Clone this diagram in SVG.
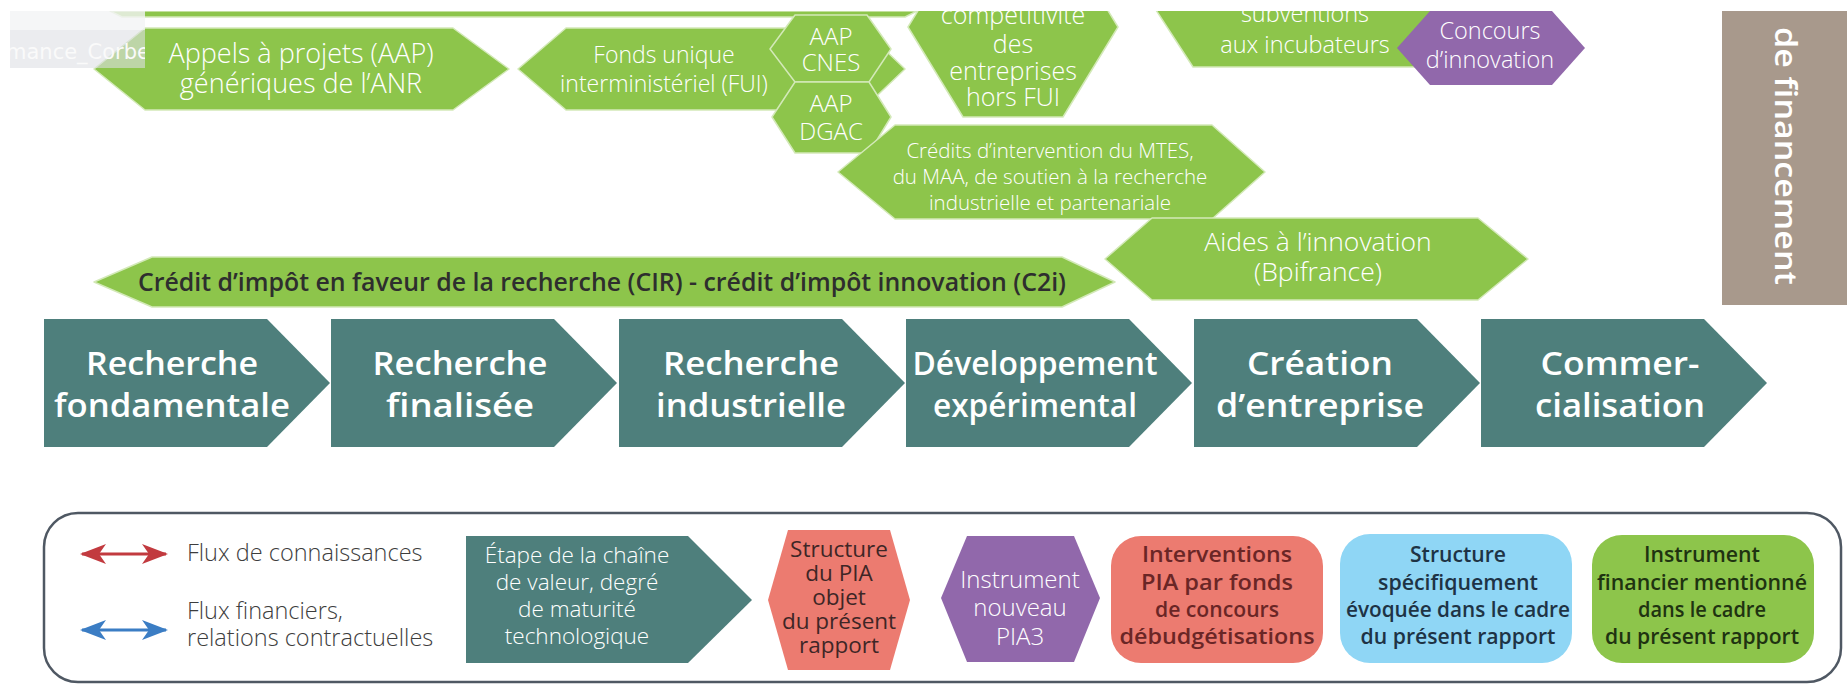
<svg xmlns="http://www.w3.org/2000/svg" width="1847" height="685" viewBox="0 0 1847 685">
<defs>
<style>
.g{fill:#8dc54b;stroke:#d3e9b8;stroke-width:1.5;stroke-linejoin:round}
.ch{fill:#4e7f7c}
.t{font-family:'Open Sans','DejaVu Sans',sans-serif;text-anchor:middle}
.tw{fill:#ffffff;font-weight:300}
.tc{font-size:33px;font-weight:600;fill:#ffffff}
.lg{font-family:'Open Sans','DejaVu Sans',sans-serif;font-size:23.5px;font-weight:300;fill:#3d3d3d}
.ld{font-size:22px;font-weight:600}
.sp{font-size:22.5px;font-weight:400;fill:#3e2626}
</style>
<clipPath id="top"><rect x="0" y="11" width="1847" height="674"/></clipPath>
<clipPath id="ovc"><rect x="10" y="11" width="135" height="57"/></clipPath>
<marker id="arR" viewBox="0 0 26 20" refX="24" refY="10" markerWidth="26" markerHeight="20" markerUnits="userSpaceOnUse" orient="auto-start-reverse">
<path d="M0,0 L26,10 L0,20 L7,10 Z" fill="#c23a3f"/>
</marker>
<marker id="arB" viewBox="0 0 26 20" refX="24" refY="10" markerWidth="26" markerHeight="20" markerUnits="userSpaceOnUse" orient="auto-start-reverse">
<path d="M0,0 L26,10 L0,20 L7,10 Z" fill="#3b7dc4"/>
</marker>
</defs>
<rect x="0" y="0" width="1847" height="685" fill="#ffffff"/>
<g clip-path="url(#top)">
<g id="top-bar"><polygon class="g" points="110,11 917,11 905,17 122,17"/></g>
<g id="aap-anr">
<polygon class="g" points="94,69 145,28 453,28 509,69 453,110 145,110"/>
<text class="t tw" font-size="27" x="301" y="63">Appels à projets (AAP)</text>
<text class="t tw" font-size="27" x="301" y="93">génériques de l’ANR</text>
</g>
<g id="fui">
<polygon class="g" points="518,69 566,28 862,28 905,69 862,110 566,110"/>
<text class="t tw" font-size="23" x="664" y="63">Fonds unique</text>
<text class="t tw" font-size="23" x="664" y="92">interministériel (FUI)</text>
</g>
<g id="aap-cnes">
<polygon class="g" points="770,49 795,15 867,15 891,49 869,82 795,82"/>
<text class="t tw" font-size="24" x="831" y="45">AAP</text>
<text class="t tw" font-size="24" x="831" y="71">CNES</text>
</g>
<g id="aap-dgac">
<polygon class="g" points="772,117 795,82 869,82 891,117 869,153 795,153"/>
<text class="t tw" font-size="24" x="831" y="112">AAP</text>
<text class="t tw" font-size="24" x="831" y="140">DGAC</text>
</g>
<g id="poles">
<polygon class="g" points="908,27 963,-63 1063,-63 1118,27 1063,117 963,117"/>
<text class="t tw" font-size="25" x="1013" y="24">compétitivité</text>
<text class="t tw" font-size="25" x="1013" y="53">des</text>
<text class="t tw" font-size="25" x="1013" y="80">entreprises</text>
<text class="t tw" font-size="25" x="1013" y="106">hors FUI</text>
</g>
<g id="credits">
<polygon class="g" points="838,172 895,125 1212,125 1265,172 1212,219 895,219"/>
<text class="t tw" font-size="20.5" x="1050" y="158">Crédits d’intervention du MTES,</text>
<text class="t tw" font-size="20.5" x="1050" y="184">du MAA, de soutien à la recherche</text>
<text class="t tw" font-size="20.5" x="1050" y="210">industrielle et partenariale</text>
</g>
<g id="subventions">
<polygon class="g" points="1143,-10 1193,67 1440,67 1480,-10"/>
<text class="t tw" font-size="23.5" x="1305" y="22">subventions</text>
<text class="t tw" font-size="23.5" x="1305" y="53">aux incubateurs</text>
</g>
<g id="concours">
<polygon points="1397,48 1430,11 1552,11 1585,48 1552,85 1430,85" fill="#9168ab"/>
<text class="t tw" font-size="23.5" x="1490" y="39">Concours</text>
<text class="t tw" font-size="23.5" x="1490" y="68">d’innovation</text>
</g>
<g id="aides">
<polygon class="g" points="1105,259 1152,218 1478,218 1528,259 1478,300 1152,300"/>
<text class="t tw" font-size="26.5" x="1318" y="251">Aides à l’innovation</text>
<text class="t tw" font-size="26.5" x="1318" y="281">(Bpifrance)</text>
</g>
<g id="cir">
<polygon class="g" points="94,282 152,257 1062,257 1115,282 1062,307 152,307"/>
<text class="t" font-size="25" font-weight="600" fill="#2e2e2e" x="602" y="291" textLength="928" lengthAdjust="spacingAndGlyphs">Crédit d’impôt en faveur de la recherche (CIR) - crédit d’impôt innovation (C2i)</text>
</g>
<g id="overlay">
<rect x="10" y="11" width="135" height="57" fill="#dde0e5" opacity="0.6"/>
<rect x="10" y="11" width="135" height="19" fill="#ffffff" opacity="0.5"/>
<text clip-path="url(#ovc)" x="6" y="59" font-family="'DejaVu Sans',sans-serif" font-size="21" fill="#fafafa">mance_Corbe</text>
</g>
<g id="modes-financement">
<rect x="1722" y="11" width="125" height="294" fill="#a8998c"/>
<text transform="rotate(90 1775 27)" x="1775" y="27" font-family="'Open Sans','DejaVu Sans',sans-serif" font-size="30" font-weight="600" fill="#ffffff" textLength="258" lengthAdjust="spacingAndGlyphs">de financement</text>
</g>
</g>
<g id="stage-1">
<polygon class="ch" points="44,319 267,319 330,383 267,447 44,447"/>
<text class="t tc" x="172" y="375" textLength="172" lengthAdjust="spacingAndGlyphs">Recherche</text>
<text class="t tc" x="172" y="417" textLength="236" lengthAdjust="spacingAndGlyphs">fondamentale</text>
</g>
<g id="stage-2">
<polygon class="ch" points="331,319 554,319 617,383 554,447 331,447"/>
<text class="t tc" x="460" y="375" textLength="175" lengthAdjust="spacingAndGlyphs">Recherche</text>
<text class="t tc" x="460" y="417" textLength="148" lengthAdjust="spacingAndGlyphs">finalisée</text>
</g>
<g id="stage-3">
<polygon class="ch" points="619,319 842,319 905,383 842,447 619,447"/>
<text class="t tc" x="751" y="375" textLength="176" lengthAdjust="spacingAndGlyphs">Recherche</text>
<text class="t tc" x="751" y="417" textLength="190" lengthAdjust="spacingAndGlyphs">industrielle</text>
</g>
<g id="stage-4">
<polygon class="ch" points="906,319 1129,319 1192,383 1129,447 906,447"/>
<text class="t tc" x="1035" y="375" textLength="245" lengthAdjust="spacingAndGlyphs">Développement</text>
<text class="t tc" x="1035" y="417" textLength="204" lengthAdjust="spacingAndGlyphs">expérimental</text>
</g>
<g id="stage-5">
<polygon class="ch" points="1194,319 1417,319 1480,383 1417,447 1194,447"/>
<text class="t tc" x="1320" y="375" textLength="146" lengthAdjust="spacingAndGlyphs">Création</text>
<text class="t tc" x="1320" y="417" textLength="208" lengthAdjust="spacingAndGlyphs">d’entreprise</text>
</g>
<g id="stage-6">
<polygon class="ch" points="1481,319 1704,319 1767,383 1704,447 1481,447"/>
<text class="t tc" x="1620" y="375" textLength="159" lengthAdjust="spacingAndGlyphs">Commer-</text>
<text class="t tc" x="1620" y="417" textLength="170" lengthAdjust="spacingAndGlyphs">cialisation</text>
</g>
<g id="legend">
<rect x="44" y="513" width="1797" height="169" rx="34" fill="#ffffff" stroke="#4f5863" stroke-width="2.5"/>
<text class="lg" x="187" y="561">Flux de connaissances</text>
<text class="lg" x="187" y="619">Flux financiers,</text>
<text class="lg" x="187" y="646">relations contractuelles</text>
</g>
<g id="connectors">
<line x1="82" y1="554" x2="166" y2="554" stroke="#c23a3f" stroke-width="3" marker-start="url(#arR)" marker-end="url(#arR)"/>
<line x1="82" y1="630" x2="166" y2="630" stroke="#3b7dc4" stroke-width="3" marker-start="url(#arB)" marker-end="url(#arB)"/>
</g>
<g id="legend-stage">
<polygon class="ch" points="466,536 688,536 752,600 688,663 466,663"/>
<text class="t tw" font-size="22.5" x="577" y="563">Étape de la chaîne</text>
<text class="t tw" font-size="22.5" x="577" y="590">de valeur, degré</text>
<text class="t tw" font-size="22.5" x="577" y="617">de maturité</text>
<text class="t tw" font-size="22.5" x="577" y="644">technologique</text>
</g>
<g id="legend-structure-pia">
<polygon points="768,600 788,530 890,530 910,600 890,670 788,670" fill="#ec7b70"/>
<text class="t sp" x="839" y="557">Structure</text>
<text class="t sp" x="839" y="581">du PIA</text>
<text class="t sp" x="839" y="605">objet</text>
<text class="t sp" x="839" y="629">du présent</text>
<text class="t sp" x="839" y="653">rapport</text>
</g>
<g id="legend-pia3">
<polygon points="941,598 967,536 1074,536 1100,598 1074,662 967,662" fill="#9168ab"/>
<text class="t tw" font-size="24" x="1020" y="588">Instrument</text>
<text class="t tw" font-size="24" x="1020" y="616">nouveau</text>
<text class="t tw" font-size="24" x="1020" y="645">PIA3</text>
</g>
<g id="legend-interventions">
<rect x="1111" y="536" width="212" height="127" rx="30" fill="#ec7b70"/>
<text class="t ld" fill="#6a2626" x="1217" y="562" textLength="150" lengthAdjust="spacingAndGlyphs">Interventions</text>
<text class="t ld" fill="#6a2626" x="1217" y="590" textLength="152" lengthAdjust="spacingAndGlyphs">PIA par fonds</text>
<text class="t ld" fill="#6a2626" x="1217" y="617" textLength="124" lengthAdjust="spacingAndGlyphs">de concours</text>
<text class="t ld" fill="#6a2626" x="1217" y="644" textLength="195" lengthAdjust="spacingAndGlyphs">débudgétisations</text>
</g>
<g id="legend-structure">
<rect x="1340" y="534" width="232" height="129" rx="30" fill="#8fd6f5"/>
<text class="t ld" fill="#1e3345" x="1458" y="562" textLength="96" lengthAdjust="spacingAndGlyphs">Structure</text>
<text class="t ld" fill="#1e3345" x="1458" y="590" textLength="160" lengthAdjust="spacingAndGlyphs">spécifiquement</text>
<text class="t ld" fill="#1e3345" x="1458" y="617" textLength="224" lengthAdjust="spacingAndGlyphs">évoquée dans le cadre</text>
<text class="t ld" fill="#1e3345" x="1458" y="644" textLength="195" lengthAdjust="spacingAndGlyphs">du présent rapport</text>
</g>
<g id="legend-instrument">
<rect x="1592" y="535" width="222" height="128" rx="30" fill="#8dc54b"/>
<text class="t ld" fill="#1f3311" x="1702" y="562" textLength="116" lengthAdjust="spacingAndGlyphs">Instrument</text>
<text class="t ld" fill="#1f3311" x="1702" y="590" textLength="210" lengthAdjust="spacingAndGlyphs">financier mentionné</text>
<text class="t ld" fill="#1f3311" x="1702" y="617" textLength="128" lengthAdjust="spacingAndGlyphs">dans le cadre</text>
<text class="t ld" fill="#1f3311" x="1702" y="644" textLength="194" lengthAdjust="spacingAndGlyphs">du présent rapport</text>
</g>
</svg>
